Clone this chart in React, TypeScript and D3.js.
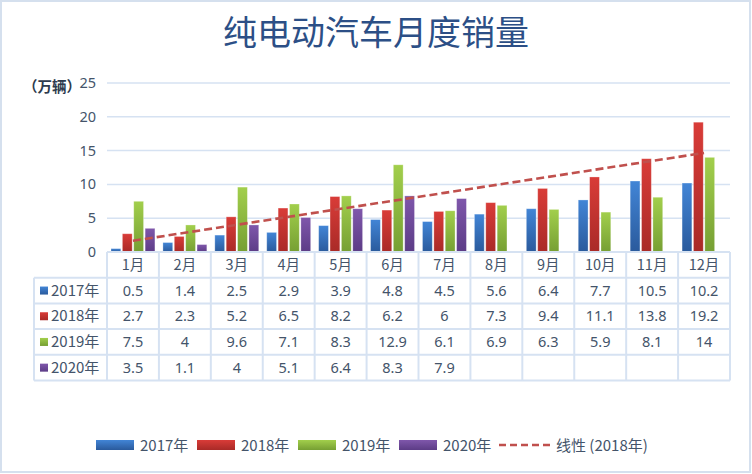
import React, { useEffect, useRef } from 'react';
import * as d3 from 'd3';

const months = ['1月', '2月', '3月', '4月', '5月', '6月', '7月', '8月', '9月', '10月', '11月', '12月'];
const seriesNames = ['2017年', '2018年', '2019年', '2020年'];
const sales2017 = [0.5, 1.4, 2.5, 2.9, 3.9, 4.8, 4.5, 5.6, 6.4, 7.7, 10.5, 10.2];
const sales2018 = [2.7, 2.3, 5.2, 6.5, 8.2, 6.2, 6, 7.3, 9.4, 11.1, 13.8, 19.2];
const sales2019 = [7.5, 4, 9.6, 7.1, 8.3, 12.9, 6.1, 6.9, 6.3, 5.9, 8.1, 14];
const sales2020: (number | null)[] = [3.5, 1.1, 4, 5.1, 6.4, 8.3, 7.9, null, null, null, null, null];
const yTicks = [0, 5, 10, 15, 20, 25];

const colors = [
    { top: '#4285d6', bottom: '#2a5a9c' },
    { top: '#d93c38', bottom: '#a92a27' },
    { top: '#a2cf4c', bottom: '#769f33' },
    { top: '#7f57ab', bottom: '#5c3c86' },
];

const TEXT = '#44546a';
const GRID = '#d6e2f2';

const App: React.FC = () => {
    const ref = useRef<SVGSVGElement>(null);
    const width = 752;
    const height = 474;
    const plot = { left: 107, right: 730, top: 83, bottom: 252 };
    const rowH = 25.7;
    const tableLeft = 34;

    useEffect(() => {
        draw();
        //eslint-disable-next-line
    }, []);

    const draw = () => {
        const svg = d3.select(ref.current);
        svg.selectAll('*').remove();
        const series = [sales2017, sales2018, sales2019, sales2020];

        const defs = svg.append('defs');
        colors.forEach((c, i) => {
            const g = defs.append('linearGradient').attr('id', `grad${i}`)
                .attr('x1', 0).attr('y1', 0).attr('x2', 0).attr('y2', 1);
            g.append('stop').attr('offset', '0%').attr('stop-color', c.top);
            g.append('stop').attr('offset', '100%').attr('stop-color', c.bottom);
        });

        // outer border
        svg.append('rect').attr('x', 1).attr('y', 1).attr('width', width - 3).attr('height', height - 3)
            .attr('fill', '#fff').attr('stroke', '#d5e0ee').attr('stroke-width', 2);

        svg.append('text').attr('x', 376).attr('y', 45).attr('text-anchor', 'middle')
            .attr('font-family', '"Noto Sans CJK SC"').attr('font-size', 34).attr('fill', '#2c4f86')
            .text('纯电动汽车月度销量');

        const x = d3.scaleBand().domain(months).range([plot.left, plot.right]);
        const xInner = d3.scaleBand().domain(seriesNames).range([4, x.bandwidth() - 4]).paddingInner(0.14);
        const y = d3.scaleLinear().domain([0, 25]).range([plot.bottom, plot.top]);

        // grid
        svg.append('g').selectAll('line').data(yTicks.slice(1)).enter().append('line')
            .attr('x1', plot.left).attr('x2', plot.right)
            .attr('y1', d => y(d)).attr('y2', d => y(d))
            .attr('stroke', GRID).attr('stroke-width', 1.5);

        // y tick labels
        svg.append('g').selectAll('text').data(yTicks).enter().append('text')
            .attr('x', 96).attr('y', d => y(d) + 5).attr('text-anchor', 'end')
            .attr('font-family', '"Noto Sans"').attr('font-size', 14.5).attr('fill', TEXT)
            .text(d => d);

        svg.append('text').attr('x', 23).attr('y', 92)
            .attr('font-family', '"Noto Sans CJK SC"').attr('font-size', 14.5).attr('font-weight', 'bold')
            .attr('fill', '#2e3b4e').text('（万辆）');

        // bars
        series.forEach((vals, si) => {
            svg.append('g').selectAll('rect').data(vals.map((v, i) => ({ v, m: months[i] })).filter(d => d.v != null))
                .enter().append('rect')
                .attr('x', d => (x(d.m) ?? 0) + (xInner(seriesNames[si]) ?? 0))
                .attr('y', d => y(d.v as number))
                .attr('width', xInner.bandwidth())
                .attr('height', d => plot.bottom - y(d.v as number))
                .attr('fill', `url(#grad${si})`)
                .attr('stroke', 'rgba(255,255,255,0.35)').attr('stroke-width', 0.8);
        });

        // linear trend of 2018
        const xs = sales2018.map((_, i) => i + 1);
        const mx = d3.mean(xs) as number;
        const my = d3.mean(sales2018) as number;
        const slope = d3.sum(xs, (xi, i) => (xi - mx) * (sales2018[i] - my)) / d3.sum(xs, xi => (xi - mx) ** 2);
        const intercept = my - slope * mx;
        const trend = months.map((m, i) => ({ m, v: intercept + slope * (i + 1) }));
        const line = d3.line<{ m: string; v: number }>()
            .x(d => (x(d.m) ?? 0) + x.bandwidth() / 2).y(d => y(d.v));
        svg.append('path').datum(trend).attr('d', line).attr('fill', 'none')
            .attr('stroke', '#c0504d').attr('stroke-width', 2.6).attr('stroke-dasharray', '8,4');

        // data table
        const tb = svg.append('g');
        const tableBottom = plot.bottom + rowH * 5;
        tb.append('line').attr('x1', plot.left).attr('x2', plot.right).attr('y1', plot.bottom).attr('y2', plot.bottom)
            .attr('stroke', GRID).attr('stroke-width', 2);
        for (let r = 1; r <= 5; r++) {
            tb.append('line').attr('x1', tableLeft).attr('x2', plot.right)
                .attr('y1', plot.bottom + rowH * r).attr('y2', plot.bottom + rowH * r)
                .attr('stroke', GRID).attr('stroke-width', 2);
        }
        tb.append('line').attr('x1', tableLeft).attr('x2', tableLeft).attr('y1', plot.bottom + rowH).attr('y2', tableBottom)
            .attr('stroke', GRID).attr('stroke-width', 2);
        [...months.map(m => x(m) ?? 0), plot.right].forEach(xv => {
            tb.append('line').attr('x1', xv).attr('x2', xv).attr('y1', plot.bottom).attr('y2', tableBottom)
                .attr('stroke', GRID).attr('stroke-width', 2);
        });
        tb.selectAll('text.cat').data(months).enter().append('text').attr('class', 'cat')
            .attr('x', d => (x(d) ?? 0) + x.bandwidth() / 2).attr('y', plot.bottom + rowH / 2 + 5)
            .attr('text-anchor', 'middle').attr('font-family', '"Noto Sans CJK SC"').attr('font-size', 14.5)
            .attr('fill', TEXT).text(d => d);
        series.forEach((vals, si) => {
            const cy = plot.bottom + rowH * (si + 1) + rowH / 2;
            tb.append('rect').attr('x', 40).attr('y', cy - 4).attr('width', 8).attr('height', 8)
                .attr('fill', `url(#grad${si})`);
            tb.append('text').attr('x', 51).attr('y', cy + 5)
                .attr('font-family', '"Noto Sans CJK SC"').attr('font-size', 15).attr('fill', TEXT)
                .text(seriesNames[si]);
            tb.selectAll(`text.v${si}`).data(vals.map((v, i) => ({ v, m: months[i] })).filter(d => d.v != null))
                .enter().append('text').attr('class', `v${si}`)
                .attr('x', d => (x(d.m) ?? 0) + x.bandwidth() / 2).attr('y', cy + 5)
                .attr('text-anchor', 'middle').attr('font-family', '"Noto Sans"').attr('font-size', 14.5)
                .attr('fill', TEXT).text(d => String(d.v));
        });

        // legend
        const lg = svg.append('g');
        const ly = 445;
        const legendX = [96, 197, 298, 399];
        seriesNames.forEach((name, i) => {
            lg.append('rect').attr('x', legendX[i]).attr('y', ly - 5).attr('width', 38).attr('height', 10)
                .attr('fill', `url(#grad${i})`);
            lg.append('text').attr('x', legendX[i] + 44).attr('y', ly + 5.5)
                .attr('font-family', '"Noto Sans CJK SC"').attr('font-size', 15).attr('fill', TEXT).text(name);
        });
        lg.append('line').attr('x1', 499).attr('x2', 550).attr('y1', ly).attr('y2', ly)
            .attr('stroke', '#c0504d').attr('stroke-width', 2.6).attr('stroke-dasharray', '7,4');
        lg.append('text').attr('x', 556).attr('y', ly + 5.5)
            .attr('font-family', '"Noto Sans CJK SC"').attr('font-size', 15).attr('fill', TEXT).text('线性 (2018年)');
    };

    return (
        <div>
            <style>{'body{margin:0}'}</style>
            <svg ref={ref} width={width} height={height} style={{ display: 'block' }}></svg>
        </div>
    );
};

export default App;
